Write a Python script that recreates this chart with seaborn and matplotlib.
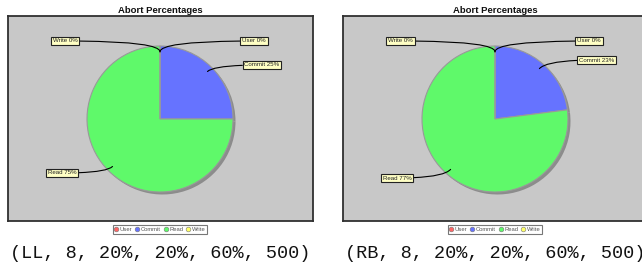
import numpy as np
import matplotlib
matplotlib.use("Agg")
import matplotlib.pyplot as plt
from matplotlib.lines import Line2D
import seaborn as sns

sns.set_theme(style="white")
plt.rcParams['font.family'] = ['Liberation Sans', 'DejaVu Sans']

# ---- data ----
categories = ["User", "Commit", "Read", "Write"]
values_ll = [0, 25, 75, 0]
values_rb = [0, 23, 77, 0]
captions = ["(LL, 8, 20%, 20%, 60%, 500)", "(RB, 8, 20%, 20%, 60%, 500)"]
title_text = "Abort Percentages"
colors = ["#ff6666", "#6673ff", "#5ff96a", "#ffff66"]

W, H = 642, 267
fig = plt.figure(figsize=(W / 100, H / 100), dpi=100)

# layout (pixels)
panels = [
    dict(values=values_ll, caption=captions[0], left=8,
         labelpos=[(246, 180), (254, 156), (54, 48), (57, 180)]),
    dict(values=values_rb, caption=captions[1], left=343,
         labelpos=[(246, 180), (253.5, 161), (54, 43), (57.5, 180)]),
]
box_w, box_h, box_top = 305, 205, 16
cx, cy, rad = 152, 102, 73

for p in panels:
    left = p["left"]
    ax = fig.add_axes([left / W, 1 - (box_top + box_h) / H, box_w / W, box_h / H])
    ax.set_facecolor("#c8c8c8")
    vals = p["values"]
    # shadow pie
    ax.pie(vals, center=(cx + 2.5, cy - 2.5), radius=rad, startangle=90,
           counterclock=False, colors=["#8c8c8c"] * 4, frame=True,
           wedgeprops=dict(linewidth=0))
    ax.pie(vals, center=(cx, cy), radius=rad, startangle=90,
           counterclock=False, colors=colors, frame=True,
           wedgeprops=dict(edgecolor="#999999", linewidth=0.8))
    ax.set_xlim(0, box_w)
    ax.set_ylim(0, box_h)
    ax.set_aspect("auto")
    ax.set_xticks([])
    ax.set_yticks([])
    for s in ax.spines.values():
        s.set_visible(True)
        s.set_color("#303030")
        s.set_linewidth(1.3)

    total = float(sum(vals))
    cum = 0.0
    for i, (cat, v) in enumerate(zip(categories, vals)):
        frac = v / total
        mid = 90 - 360 * (cum + frac / 2)
        cum += frac
        ax_x = cx + 0.92 * rad * np.cos(np.radians(mid))
        ax_y = cy + 0.92 * rad * np.sin(np.radians(mid))
        angB = mid % 180
        if abs(angB) < 1e-6:
            angB = 90
        ax.annotate(f"{cat} {int(round(v))}%", xy=(ax_x, ax_y),
                    xytext=p["labelpos"][i], ha="center", va="center",
                    fontsize=4.4, color="#222222",
                    bbox=dict(boxstyle="square,pad=0.28", fc="#ffffc4",
                              ec="#222222", lw=0.8),
                    arrowprops=dict(arrowstyle="-", color="black", lw=0.8,
                                    shrinkA=0, shrinkB=0,
                                    connectionstyle=f"angle3,angleA=0,angleB={angB}"))

    pcx = (left + cx) / W
    fig.text(pcx, 1 - 10.5 / H, title_text, ha="center", va="center",
             fontsize=6.8, fontweight="bold", color="#111111")

    handles = [Line2D([], [], marker="o", linestyle="", markersize=3.4,
                      markerfacecolor=c, markeredgecolor="#777777",
                      markeredgewidth=0.4) for c in colors]
    leg = ax.legend(handles, categories, loc="center", ncol=4,
                    bbox_to_anchor=(pcx, 1 - 229.5 / H),
                    bbox_transform=fig.transFigure, fontsize=4.2,
                    frameon=True, fancybox=False, edgecolor="#555555",
                    handlelength=0.6, handletextpad=0.25, columnspacing=0.6,
                    borderpad=0.35, labelcolor="#555555")
    leg.get_frame().set_linewidth(0.8)

    fig.text(pcx, 1 - 254 / H, p["caption"], ha="center", va="center",
             fontsize=13.3, family=["Liberation Mono", "DejaVu Sans Mono"],
             color="#111111")

fig.savefig("out.png", dpi=100)
